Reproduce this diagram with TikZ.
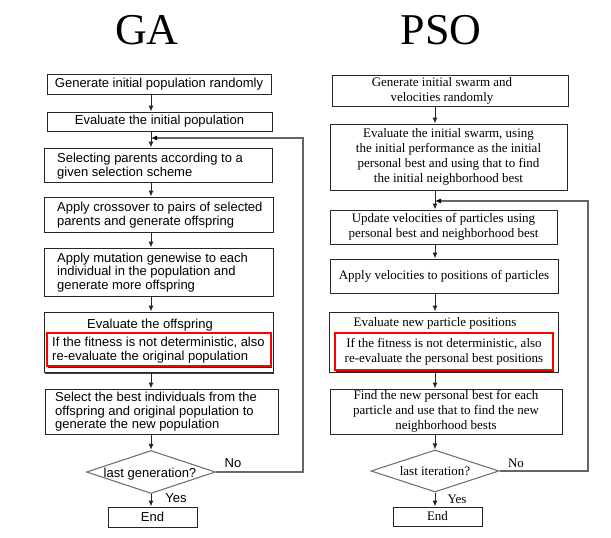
\documentclass[tikz,border=0pt]{standalone}
\usepackage{fontspec}
\setmainfont{Liberation Serif}
\newfontfamily\gafont{Liberation Sans}
\usetikzlibrary{arrows.meta,shapes.geometric,shadows}
\begin{document}
\begin{tikzpicture}[x=1pt,y=-1pt,
  gabox/.style={draw=black!85, line width=1pt, fill=white, inner sep=0pt},
  gatext/.style={inner sep=0pt, align=left, anchor=west, font=\gafont\fontsize{13}{13.6}\selectfont},
  gactext/.style={inner sep=0pt, align=center, font=\gafont\fontsize{13}{13.6}\selectfont},
  psbox/.style={draw=black!85, line width=1pt, fill=white, inner sep=0pt, align=center, font=\fontsize{13}{15}\selectfont},
  pstext/.style={inner sep=0pt, align=center, font=\fontsize{13}{15}\selectfont},
  redbox/.style={draw=red, line width=2.4pt, fill=white, inner sep=0pt,
    drop shadow={shadow xshift=1.4pt, shadow yshift=-2pt, fill=black!85, opacity=1}},
  shadowbox/.style={drop shadow={shadow xshift=1.4pt, shadow yshift=-2pt, fill=black!75, opacity=1}},
  decision/.style={diamond, draw=black!55, line width=1.1pt, fill=white, inner sep=0pt},
  title/.style={inner sep=0pt, font=\fontsize{44}{48}\selectfont},
  arr/.style={draw=black!85, line width=1pt, -{Latex[length=6pt,width=5pt]}},
  loopline/.style={draw=black!60, line width=1.1pt, -{Latex[length=6pt,width=5pt,color=black]}}
]
\useasboundingbox[fill=white] (0,0) rectangle (611,538);

% titles
\node[title] (tga) at (147,30) {GA};
\node[title] (tpso) at (441,30) {PSO};

% ---------------- GA ----------------
\coordinate (gax) at (151,0);
\coordinate (gloop) at (151,138);
\coordinate (gright) at (303,138);

\node[gabox, minimum width=224, minimum height=20, gactext] (g1) at (159,84) {Generate initial population randomly};
\node[gabox, minimum width=225, minimum height=19, gactext] (g2) at (159.5,121.5) {Evaluate the initial population};

\node[gabox, minimum width=228, minimum height=34] (g3) at (158,165) {};
\node[gatext] (g3t) at (57,166) {Selecting parents according to a\\given selection scheme};

\node[gabox, minimum width=229, minimum height=35] (g4) at (158.5,214.5) {};
\node[gatext] (g4t) at (57,215) {Apply crossover to pairs of selected\\parents and generate offspring};

\node[gabox, minimum width=229, minimum height=48] (g5) at (158.5,272) {};
\node[gatext] (g5t) at (57,272.5) {Apply mutation genewise to each\\individual in the population and\\generate more offspring};

\node[gabox, shadowbox, minimum width=229, minimum height=60] (g6) at (158.5,342) {};
\node[gactext] (g6t) at (150,325) {Evaluate the offspring};
\node[redbox, minimum width=224, minimum height=33] (g6r) at (159,349.5) {};
\node[gatext] (g6rt) at (52,350) {If the fitness is not deterministic, also\\re-evaluate the original population};

\node[gabox, minimum width=233, minimum height=45] (g7) at (161.5,411.5) {};
\node[gatext] (g7t) at (55,412) {Select the best individuals from the\\offspring and original population to\\generate the new population};

\node[decision, minimum width=129, minimum height=43] (gd) at (151,472) {};
\node[gactext] (gdt) at (150,474) {last generation?};

\node[gabox, minimum width=89, minimum height=20, gactext] (gend) at (152.5,517) {End};

\node[gactext] (gno) at (233,463) {No};
\node[gactext] (gyes) at (176,498) {Yes};

\draw[arr] (g1.south -| gax) -- (g2.north -| gax);
\draw[arr] (g2.south -| gax) -- (g3.north -| gax);
\draw[arr] (g3.south -| gax) -- (g4.north -| gax);
\draw[arr] (g4.south -| gax) -- (g5.north -| gax);
\draw[arr] (g5.south -| gax) -- (g6.north -| gax);
\draw[arr] (g6.south -| gax) -- (g7.north -| gax);
\draw[arr] (g7.south -| gax) -- (gd.north -| gax);
\draw[arr] (gd.south -| gax) -- (gend.north -| gax);
\draw[loopline] (gd.east) -| (gright) -- (gloop);

% ---------------- PSO ----------------
\coordinate (pax) at (435,0);
\coordinate (ploop) at (435,201);
\coordinate (pright) at (588,201);

\node[psbox, minimum width=236, minimum height=31] (p1) at (450,90.5) {};
\node[pstext] (p1t) at (442,90.5) {Generate initial swarm and\\velocities randomly};

\node[psbox, minimum width=237, minimum height=66] (p2) at (448.5,157) {Evaluate the initial swarm, using\\the initial performance as the initial\\personal best and using that to find\\the initial neighborhood best};

\node[psbox, minimum width=227, minimum height=34] (p3) at (443.5,227) {Update velocities of particles using\\personal best and neighborhood best};

\node[psbox, minimum width=228, minimum height=34] (p4) at (444,276) {Apply velocities to positions of particles};

\node[psbox, minimum width=229, minimum height=60] (p5) at (443.5,342) {};
\node[pstext] (p5t) at (435,323) {Evaluate new particle positions};
\node[redbox, minimum width=218, minimum height=37] (p5r) at (444,351.5) {};
\node[pstext] (p5rt) at (444,351.5) {If the fitness is not deterministic, also\\re-evaluate the personal best positions};

\node[psbox, minimum width=232, minimum height=45] (p6) at (446,411.5) {Find the new personal best for each\\particle and use that to find the new\\neighborhood bests};

\node[decision, minimum width=128, minimum height=42] (pd) at (435,471) {};
\node[pstext] (pdt) at (435,471) {last iteration?};

\node[psbox, minimum width=89, minimum height=19] (pend) at (437.5,516.5) {End};

\node[pstext] (pno) at (516,463) {No};
\node[pstext] (pyes) at (457,499) {Yes};

\draw[arr] (p1.south -| pax) -- (p2.north -| pax);
\draw[arr] (p2.south -| pax) -- (p3.north -| pax);
\draw[arr] (p3.south -| pax) -- (p4.north -| pax);
\draw[arr] (p4.south -| pax) -- (p5.north -| pax);
\draw[arr] (p5.south -| pax) -- (p6.north -| pax);
\draw[arr] (p6.south -| pax) -- (pd.north -| pax);
\draw[arr] (pd.south -| pax) -- (pend.north -| pax);
\draw[loopline] (pd.east) -| (pright) -- (ploop);
\end{tikzpicture}
\end{document}
